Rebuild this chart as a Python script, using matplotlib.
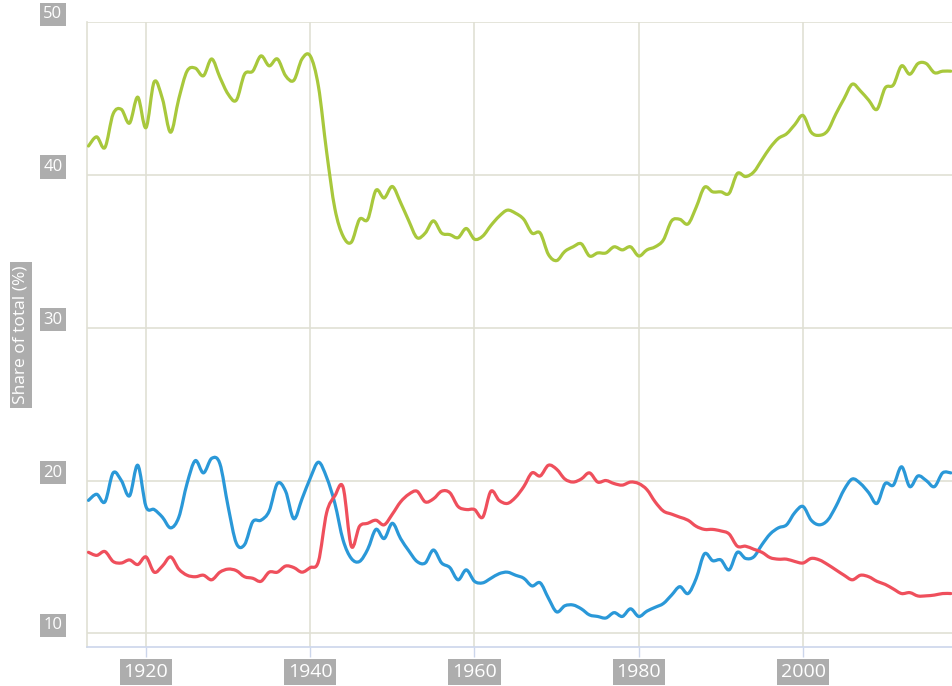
import numpy as np
import matplotlib
matplotlib.use('Agg')
import matplotlib.pyplot as plt
from matplotlib.path import Path
from matplotlib.patches import PathPatch
from matplotlib.transforms import offset_copy

plt.rcParams['font.family'] = ['Open Sans', 'DejaVu Sans']

years = list(range(1913, 2019))

green = [41.9, 42.5, 41.8, 44.0, 44.3, 43.4, 45.1,
         43.1, 46.1, 45.0, 42.8, 45.0, 46.8, 47.0, 46.5, 47.6, 46.4,
         45.3, 44.9, 46.6, 46.8, 47.8, 47.15, 47.6, 46.5, 46.2, 47.6,
         47.8, 45.8, 41.5, 37.8, 36.0, 35.6, 37.1, 37.1, 39.0, 38.5,
         39.25, 38.2, 37.0, 35.9, 36.2, 37.0, 36.2, 36.1, 35.9, 36.5,
         35.8, 36.0, 36.7, 37.3, 37.7, 37.5, 37.1, 36.2, 36.2, 34.8,
         34.4, 35.0, 35.3, 35.5, 34.7, 34.9, 34.9, 35.3, 35.1, 35.3,
         34.7, 35.1, 35.3, 35.75, 37.0, 37.1, 36.8, 37.9, 39.2, 38.9,
         38.9, 38.8, 40.1, 39.9, 40.2, 41.0, 41.8, 42.4, 42.7, 43.3,
         43.9, 42.8, 42.6, 42.9, 44.0, 45.0, 45.95, 45.5, 44.9, 44.3,
         45.7, 45.9, 47.15, 46.6, 47.3, 47.3, 46.7, 46.8, 46.8]

blue = [18.7, 19.1, 18.6, 20.5, 20.0, 19.0, 21.0,
        18.3, 18.1, 17.6, 16.9, 17.6, 19.8, 21.3, 20.5, 21.45, 21.1,
        18.3, 15.9, 15.8, 17.3, 17.4, 18.0, 19.8, 19.3, 17.5, 18.8,
        20.15, 21.2, 20.2, 18.5, 16.1, 14.9, 14.7, 15.5, 16.8, 16.2,
        17.2, 16.2, 15.4, 14.7, 14.6, 15.45, 14.6, 14.3, 13.5, 14.15,
        13.4, 13.3, 13.6, 13.9, 14.0, 13.8, 13.6, 13.1, 13.3, 12.3,
        11.4, 11.8, 11.85, 11.6, 11.2, 11.1, 11.0, 11.35, 11.1, 11.6,
        11.1, 11.45, 11.7, 11.95, 12.5, 13.05, 12.6, 13.6, 15.2, 14.75,
        14.8, 14.15, 15.3, 14.9, 15.0, 15.8, 16.5, 16.9, 17.1, 17.9,
        18.3, 17.4, 17.1, 17.4, 18.3, 19.4, 20.1, 19.8, 19.2, 18.5,
        19.8, 19.7, 20.9, 19.6, 20.3, 20.0, 19.6, 20.5, 20.5]

red = [15.3, 15.1, 15.35, 14.7, 14.6, 14.8, 14.5,
       15.0, 14.0, 14.4, 15.0, 14.2, 13.8, 13.7, 13.8, 13.5, 14.0,
       14.2, 14.1, 13.7, 13.6, 13.4, 14.0, 14.0, 14.4, 14.3, 14.0,
       14.3, 14.7, 17.9, 19.0, 19.56, 15.7, 17.0, 17.2, 17.4, 17.1,
       17.8, 18.6, 19.1, 19.3, 18.6, 18.8, 19.3, 19.2, 18.3, 18.1,
       18.1, 17.6, 19.3, 18.7, 18.5, 18.9, 19.6, 20.5, 20.3, 21.0,
       20.74, 20.1, 19.9, 20.1, 20.5, 19.9, 20.0, 19.8, 19.7, 19.9,
       19.8, 19.4, 18.6, 18.0, 17.8, 17.6, 17.4, 17.0, 16.8, 16.8,
       16.7, 16.5, 15.7, 15.7, 15.5, 15.3, 14.95, 14.85, 14.85, 14.7,
       14.6, 14.9, 14.8, 14.5, 14.15, 13.8, 13.5, 13.8, 13.7, 13.4,
       13.2, 12.9, 12.6, 12.66, 12.44, 12.45, 12.5, 12.6, 12.6]

x_ticks = [1920, 1940, 1960, 1980, 2000]
y_ticks = [10, 20, 30, 40, 50]

grid_col = '#e0e0d4'
axis_col = '#ccd6eb'
box_col = '#adadad'


def smooth_path(x, y):
    # curved line through every point (like a spline series)
    x = np.asarray(x, float)
    y = np.asarray(y, float)
    n = len(x)
    verts = [(x[0], y[0])]
    codes = [Path.MOVETO]
    for i in range(n - 1):
        a = max(i - 1, 0)
        b = min(i + 2, n - 1)
        c1 = (x[i] + (x[i + 1] - x[a]) / 6, y[i] + (y[i + 1] - y[a]) / 6)
        c2 = (x[i + 1] - (x[b] - x[i]) / 6, y[i + 1] - (y[b] - y[i]) / 6)
        verts += [c1, c2, (x[i + 1], y[i + 1])]
        codes += [Path.CURVE4] * 3
    return Path(verts, codes)


fig = plt.figure(figsize=(9.52, 6.86), dpi=100)
ax = fig.add_axes([87 / 952, 39.3 / 686, 1 - 87 / 952, 624.4 / 686])
ax.set_xlim(1912.82, 2018.14)
ax.set_ylim(9.12, 50)

for s, c in [(green, '#a8c83c'), (blue, '#2a98d8'), (red, '#ef4f5c')]:
    p = PathPatch(smooth_path(years, s), fill=False, edgecolor=c, lw=2.3,
                  capstyle='round', joinstyle='round', zorder=3)
    ax.add_patch(p)

ax.set_xticks(x_ticks)
ax.set_yticks(y_ticks)
ax.grid(True, color=grid_col, lw=1.2, zorder=0)
ax.set_xticklabels([])
ax.set_yticklabels([])
ax.tick_params(axis='x', direction='out', length=7, width=1, color=axis_col)
ax.tick_params(axis='y', length=0)

for sp in ['top', 'right']:
    ax.spines[sp].set_visible(False)
ax.spines['left'].set_color(grid_col)
ax.spines['left'].set_linewidth(1.2)
ax.spines['bottom'].set_color(axis_col)
ax.spines['bottom'].set_linewidth(1.2)

# x labels, below the axis
xbox = dict(boxstyle='square,pad=0.2', fc=box_col, ec='none')
xt = offset_copy(ax.get_xaxis_transform(), fig=fig, x=0, y=-25, units='dots')
for t in x_ticks:
    ax.text(t, 0, str(t), transform=xt, ha='center', va='center',
            color='white', fontsize=14, bbox=xbox, clip_on=False)

# y labels, left of the axis and a bit above the grid lines
ybox = dict(boxstyle='square,pad=0.22', fc=box_col, ec='none')
yt = offset_copy(ax.get_yaxis_transform(), fig=fig, x=-34, y=8, units='dots')
for t in y_ticks:
    ax.text(0, t, str(t), transform=yt, ha='center', va='center',
            color='white', fontsize=12, bbox=ybox, clip_on=False)

lbox = dict(boxstyle='square,pad=0.2', fc=box_col, ec='none')
fig.text(21 / 952, 1 - 335 / 686, 'Share of total (%)', rotation=90,
         ha='center', va='center', color='white', fontsize=12.5, bbox=lbox)

fig.savefig('out.png', dpi=100)
